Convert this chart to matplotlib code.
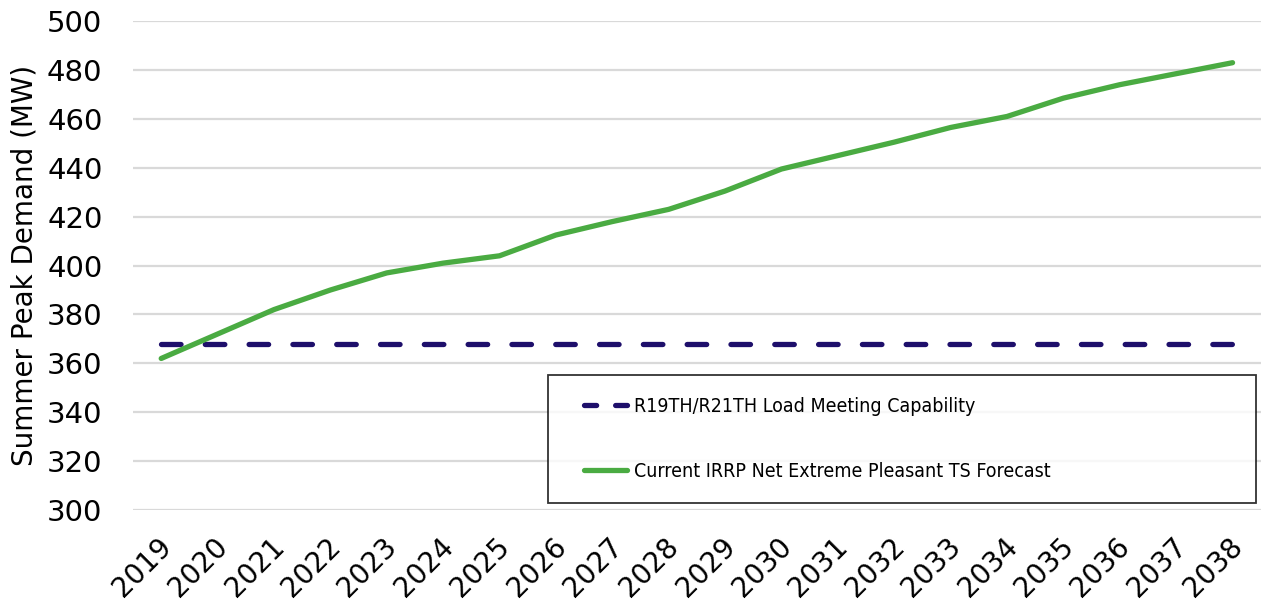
import matplotlib
matplotlib.use("Agg")
import matplotlib.pyplot as plt
from matplotlib import font_manager as fm
from matplotlib.lines import Line2D
from matplotlib.legend_handler import HandlerLine2D
from matplotlib.transforms import ScaledTranslation

years = list(range(2019, 2039))
forecast = [362, 372, 382, 390, 397, 401, 404, 412.5, 418, 423,
            430.5, 439.5, 445, 450.5, 456.5, 461, 468.5, 474, 478.5, 483]
capability = [368] * len(years)
yticks = list(range(300, 501, 20))
labels = ["R19TH/R21TH Load Meeting Capability",
          "Current IRRP Net Extreme Pleasant TS Forecast"]

plt.rcParams['font.family'] = ['DejaVu Sans']

LEG_SIZE = 14
leg_prop = fm.FontProperties(family='DejaVu Sans', size=LEG_SIZE)
for fam, stretch, key in [('Liberation Sans Narrow', 'normal', 'Narrow'),
                          ('DejaVu Sans', 'condensed', 'Condensed')]:
    try:
        p = fm.FontProperties(family=fam, stretch=stretch, size=LEG_SIZE)
        path = fm.findfont(p, fallback_to_default=False)
        if key.lower() in path.lower():
            leg_prop = fm.FontProperties(fname=path, size=LEG_SIZE)
            break
    except Exception:
        pass

NAVY = '#1e0f6b'
GREEN = '#4aab42'

fig = plt.figure(figsize=(12.62, 6.04), dpi=100)
ax = fig.add_axes([0.1054, 0.1556, 0.8936, 0.8094])

x = list(range(len(years)))
ax.plot(x, capability, color=NAVY, lw=3.8, dashes=(3.7, 4.6),
        dash_capstyle='round', zorder=3)
ax.plot(x, forecast, color=GREEN, lw=3.8, solid_capstyle='round', zorder=3)

ax.set_xlim(-0.5, len(years) - 0.5)
ax.set_ylim(300, 500)
ax.set_yticks(yticks)
ax.set_xticks(x)
ax.set_xticklabels([str(y) for y in years], rotation=45, ha='right',
                   rotation_mode='anchor', fontsize=20)
ax.tick_params(axis='y', labelsize=21, length=0, pad=22)
ax.tick_params(axis='x', length=0, pad=16)
off = ScaledTranslation(-4 / 100, 0, fig.dpi_scale_trans)
for lab in ax.get_xticklabels():
    lab.set_transform(lab.get_transform() + off)
ax.grid(axis='y', color='#d9d9d9', lw=1.6)
ax.set_axisbelow(True)
for s in ax.spines.values():
    s.set_visible(False)
ax.set_ylabel("Summer Peak Demand (MW)", fontsize=20, labelpad=6)

h1 = Line2D([], [], color=NAVY, lw=3.8, dashes=(2.3, 3.6), dash_capstyle='round')
h2 = Line2D([], [], color=GREEN, lw=3.8, solid_capstyle='round')
hm = {h1: HandlerLine2D(xpad=0.7), h2: HandlerLine2D(xpad=0.7)}
leg = ax.legend([h1, h2], labels, handler_map=hm,
                loc='lower left', bbox_to_anchor=(0.368, 0.014, 0.628, 0.266),
                mode='expand', frameon=True, fancybox=False, prop=leg_prop,
                handlelength=2.9, handletextpad=0.35, labelspacing=2.35,
                borderpad=1.15, borderaxespad=0)
leg.get_frame().set_edgecolor('black')
leg.get_frame().set_linewidth(1.3)

fig.savefig("out.png", dpi=100)
